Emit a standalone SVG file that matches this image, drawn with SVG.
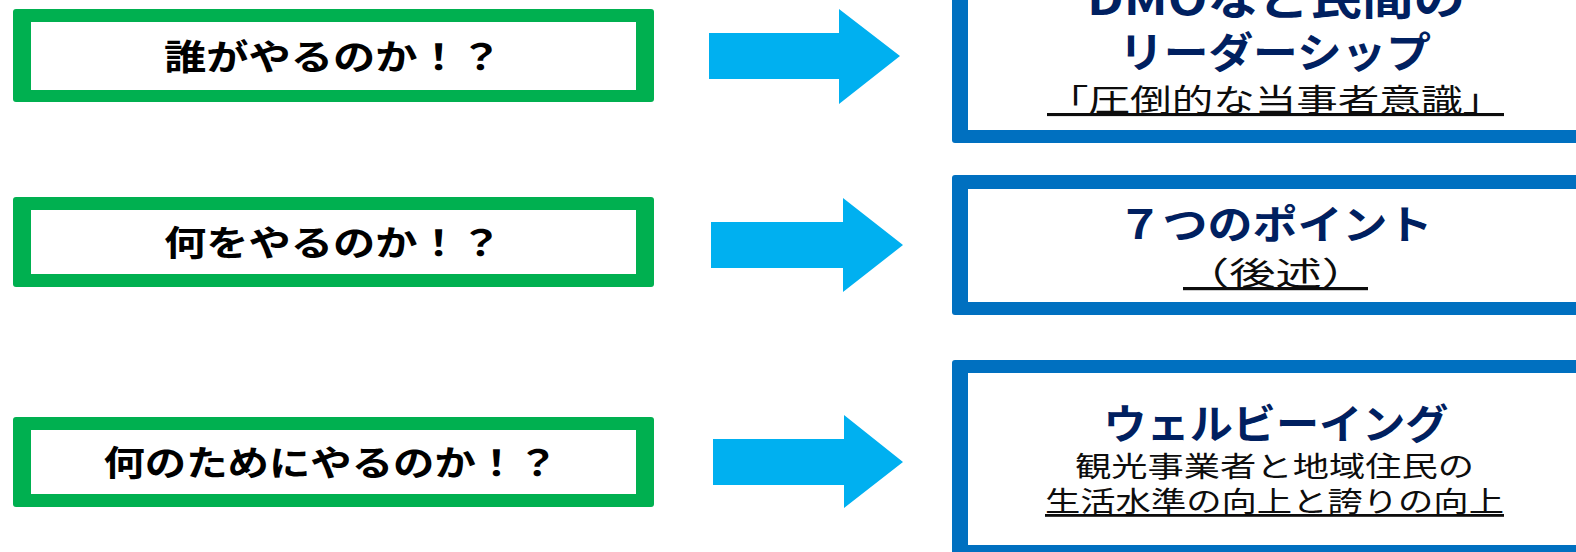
<svg xmlns="http://www.w3.org/2000/svg" width="1576" height="552" viewBox="0 0 1576 552">
<style>
.gOut{fill:#00B050}
.bOut{fill:#0070C0}
.inner{fill:#FFFFFF}
.arrow{fill:#00B0F0}
.q{font-family:"Noto Sans CJK JP","Noto Sans",sans-serif;font-weight:bold;font-size:35px;fill:#000000;text-anchor:middle}
.t{font-family:"Noto Sans CJK JP","Noto Sans",sans-serif;font-weight:bold;fill:#002060;text-anchor:middle}
.s{font-family:"Noto Sans CJK JP","Noto Sans",sans-serif;font-weight:normal;fill:#0D0D0D;text-anchor:middle}
.u{text-decoration:underline}
</style>
<rect width="1576" height="552" fill="#FFFFFF"/>
<g id="q1">
<rect class="gOut" x="13" y="9" width="641" height="93" rx="3"/>
<rect class="inner" x="31" y="22" width="605" height="68"/>
<text class="q" x="333" y="69.5" textLength="338" lengthAdjust="spacingAndGlyphs">誰がやるのか！？</text>
</g>
<g id="q2">
<rect class="gOut" x="13" y="197" width="641" height="90" rx="3"/>
<rect class="inner" x="31" y="210" width="605" height="64"/>
<text class="q" x="333" y="255.5" textLength="338" lengthAdjust="spacingAndGlyphs">何をやるのか！？</text>
</g>
<g id="q3">
<rect class="gOut" x="13" y="417" width="641" height="90" rx="3"/>
<rect class="inner" x="31" y="430" width="605" height="64"/>
<text class="q" x="331" y="475.5" textLength="455" lengthAdjust="spacingAndGlyphs">何のためにやるのか！？</text>
</g>
<g id="connectors">
<polygon class="arrow" points="709,33 839,33 839,9 900,56 839,104 839,79 709,79"/>
<polygon class="arrow" points="711,222 843,222 843,198 903,245 843,292 843,268 711,268"/>
<polygon class="arrow" points="713,439 844,439 844,415 903,462 844,508 844,485 713,485"/>
</g>
<g id="a1">
<rect class="bOut" x="952" y="-60" width="700" height="203" rx="3"/>
<rect class="inner" x="968" y="-46" width="700" height="176"/>
<text class="t" x="1276" y="15" font-size="44" textLength="378" lengthAdjust="spacingAndGlyphs">DMOなど民間の</text>
<text class="t" x="1275" y="68" font-size="42" textLength="312" lengthAdjust="spacingAndGlyphs">リーダーシップ</text>
<text class="s u" x="1275.5" y="111" font-size="31" textLength="457" lengthAdjust="spacingAndGlyphs">「圧倒的な当事者意識」</text>
</g>
<g id="a2">
<rect class="bOut" x="952" y="175" width="700" height="140" rx="3"/>
<rect class="inner" x="968" y="189" width="700" height="113"/>
<text class="t" x="1275" y="239" font-size="40" textLength="315" lengthAdjust="spacingAndGlyphs">７つのポイント</text>
<text class="s u" x="1275.5" y="285" font-size="32" textLength="185" lengthAdjust="spacingAndGlyphs">（後述）</text>
</g>
<g id="a3">
<rect class="bOut" x="952" y="360" width="700" height="260" rx="3"/>
<rect class="inner" x="968" y="373" width="700" height="172"/>
<text class="t" x="1276" y="439" font-size="41" textLength="345" lengthAdjust="spacingAndGlyphs">ウェルビーイング</text>
<text class="s" x="1274.5" y="477" font-size="28" textLength="399" lengthAdjust="spacingAndGlyphs">観光事業者と地域住民の</text>
<text class="s u" x="1274.5" y="512" font-size="28" textLength="459" lengthAdjust="spacingAndGlyphs">生活水準の向上と誇りの向上</text>
</g>
</svg>
